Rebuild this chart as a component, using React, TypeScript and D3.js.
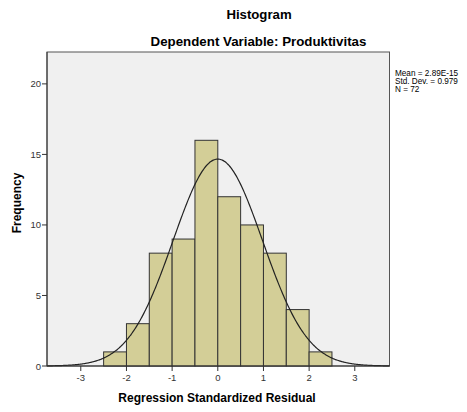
import React from "react";
import * as d3 from "d3";

// bins of the residual histogram (width 0.5)
const binStarts = [-2.5, -2, -1.5, -1, -0.5, 0, 0.5, 1, 1.5, 2];
const binCounts = [1, 3, 8, 9, 16, 12, 10, 8, 4, 1];
const binWidth = 0.5;
const xTicks = [-3, -2, -1, 0, 1, 2, 3];
const yTicks = [0, 5, 10, 15, 20];
const statsLines = ["Mean = 2.89E-15", "Std. Dev. = 0.979", "N = 72"];
const mean = 2.89e-15;
const sd = 0.979;
const n = 72;

const W = 467;
const H = 412;
const plot = { left: 47, top: 52, right: 389.5, bottom: 366 };
const font = "'Liberation Sans', Arial, sans-serif";

const App = () => {
  const x = d3.scaleLinear().domain([-3.74, 3.76]).range([plot.left, plot.right]);
  const y = d3.scaleLinear().domain([0, 22.26]).range([plot.bottom, plot.top]);

  // normal curve scaled to counts
  const curvePts = d3.range(-3.74, 3.761, 0.02).map((v) => {
    const pdf = Math.exp(-0.5 * ((v - mean) / sd) ** 2) / (sd * Math.sqrt(2 * Math.PI));
    return [v, n * binWidth * pdf];
  });
  const line = d3
    .line()
    .x((d) => x(d[0]))
    .y((d) => y(d[1]))
    .curve(d3.curveBasis);

  return (
    <svg width={W} height={H} style={{ position: "absolute", left: 0, top: 0 }}>
      <rect x={0} y={0} width={W} height={H} fill="#ffffff" />
      <text x={259} y={19} textAnchor="middle" fontFamily={font} fontWeight="bold" fontSize={13.2} fill="#000">
        Histogram
      </text>
      <text x={258.5} y={46} textAnchor="middle" fontFamily={font} fontWeight="bold" fontSize={13.3} fill="#000">
        Dependent Variable: Produktivitas
      </text>

      <rect
        x={plot.left}
        y={plot.top}
        width={plot.right - plot.left}
        height={plot.bottom - plot.top}
        fill="#f0f0f0"
        stroke="#555"
        strokeWidth={1}
      />

      {binStarts.map((s, i) => (
        <rect
          key={i}
          x={x(s)}
          y={y(binCounts[i])}
          width={x(s + binWidth) - x(s)}
          height={y(0) - y(binCounts[i])}
          fill="#d3ce97"
          stroke="#333"
          strokeWidth={1}
        />
      ))}

      <path d={line(curvePts as any) || ""} fill="none" stroke="#222" strokeWidth={1.2} />

      {/* axes */}
      <line x1={plot.left} x2={plot.left} y1={plot.top} y2={plot.bottom} stroke="#333" />
      <line x1={plot.left} x2={plot.right} y1={plot.bottom} y2={plot.bottom} stroke="#333" />
      {yTicks.map((t) => (
        <g key={t}>
          <line x1={plot.left - 5} x2={plot.left} y1={y(t)} y2={y(t)} stroke="#333" />
          <text
            x={plot.left - 6}
            y={y(t) + 3.5}
            textAnchor="end"
            fontFamily={font}
            fontSize={9.5}
            fill="#333"
          >
            {t}
          </text>
        </g>
      ))}
      {xTicks.map((t) => (
        <g key={t}>
          <line x1={x(t)} x2={x(t)} y1={plot.bottom} y2={plot.bottom + 5} stroke="#333" />
          <text x={x(t)} y={plot.bottom + 15} textAnchor="middle" fontFamily={font} fontSize={9.5} fill="#333">
            {t}
          </text>
        </g>
      ))}

      <text x={217} y={402} textAnchor="middle" fontFamily={font} fontWeight="bold" fontSize={12} fill="#000">
        Regression Standardized Residual
      </text>
      <text
        transform={`translate(21,${(plot.top + plot.bottom) / 2 - 6}) rotate(-90)`}
        textAnchor="middle"
        fontFamily={font}
        fontWeight="bold"
        fontSize={12}
        fill="#000"
      >
        Frequency
      </text>

      {statsLines.map((s, i) => (
        <text key={i} x={395} y={76 + i * 7.8} fontFamily={font} fontSize={8.2} fill="#000">
          {s}
        </text>
      ))}
    </svg>
  );
};

export default App;
